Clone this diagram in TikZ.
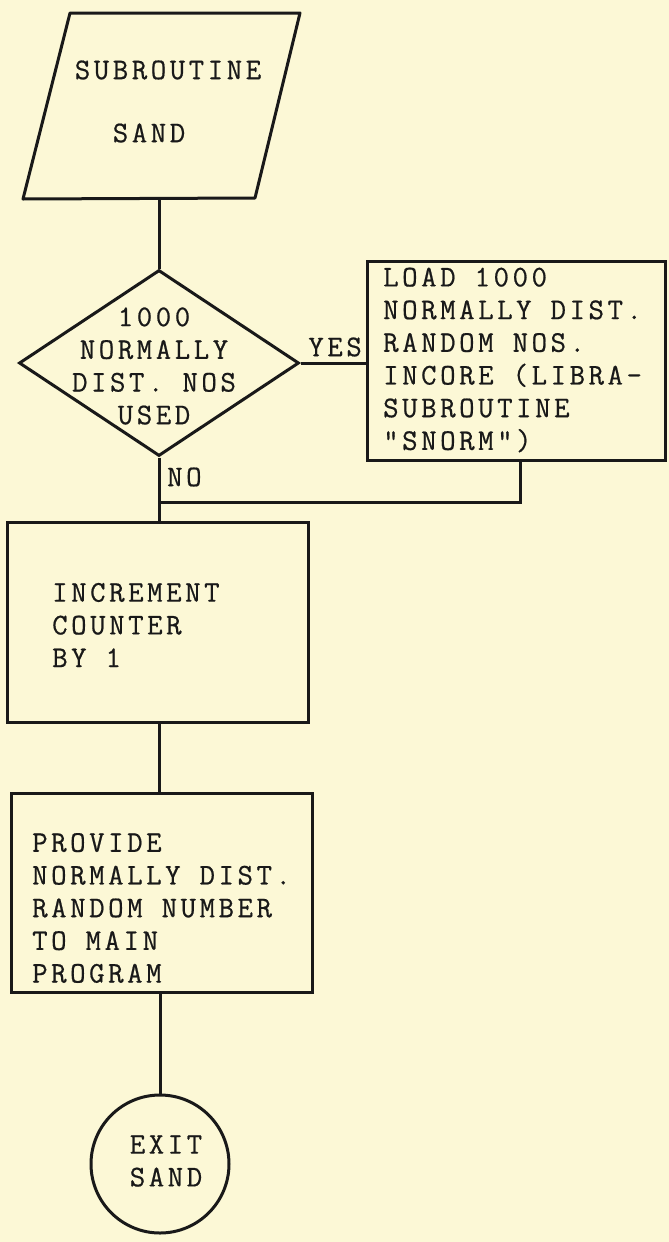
\documentclass[tikz,border=0pt]{standalone}
\usepackage{fontspec}
\newfontfamily\typer[LetterSpace=11.8, FakeBold=0.6]{Latin Modern Mono}
\usetikzlibrary{shapes.geometric}

\definecolor{paper}{RGB}{252,248,214}
\definecolor{ink}{RGB}{25,25,25}

\tikzset{
  txt/.style = {font=\typer\fontsize{30}{32.7}\selectfont, text=ink, inner sep=0pt, align=left},
  box/.style = {draw=ink, line width=3pt, inner sep=0pt},
  decision/.style = {diamond, draw=ink, line width=3pt, inner sep=0pt},
  link/.style = {draw=ink, line width=3pt},
}

\begin{document}
\begin{tikzpicture}[x=1pt, y=-1pt]
\fill[paper] (0,0) rectangle (669,1242);
\useasboundingbox (0,0) rectangle (669,1242);
% input
\draw[link, line join=round] (70,13) -- (300,13) -- (255,198) -- (23,199) -- cycle;
\node[txt] (sub1) at (168,70) {SUBROUTINE};
\node[txt] (sub2) at (149,133) {SAND};
\coordinate (subb) at (159,198);
% test
\node[decision, minimum width=280, minimum height=186] (dec) at (159,363) {};
\node[txt, align=center] (dect) at (154,366) {1000\\NORMALLY\\DIST. NOS\\USED};
\node[box, minimum width=298, minimum height=199] (load) at (516,360.5) {};
\node[txt, anchor=west] (loadt) at (383,360) {LOAD 1000\\NORMALLY DIST.\\RANDOM NOS.\\INCORE (LIBRA-\\SUBROUTINE\\"SNORM")};
\node[txt, anchor=east] (yes) at (362,347) {YES};
\node[txt, anchor=west] (no) at (167,477) {NO};
\coordinate (join) at (159,502);
% steps
\node[box, minimum width=301, minimum height=200] (incr) at (157.5,622) {};
\node[txt, anchor=west] (incrt) at (52,625) {INCREMENT\\COUNTER\\BY 1};
\node[box, minimum width=301, minimum height=199] (prov) at (161.5,892.5) {};
\node[txt, anchor=west] (provt) at (32,908) {PROVIDE\\NORMALLY DIST.\\RANDOM NUMBER\\TO MAIN\\PROGRAM};
% exit
\node[circle, draw=ink, line width=3pt, minimum size=138, inner sep=0pt] (exit) at (160,1164) {};
\node[txt, align=center] (exitt) at (166,1161) {EXIT\\SAND};

\draw[link] (subb) -- (dec.north);
\draw[link] (dec.east) -- (load.west |- dec.east);
\draw[link] ([xshift=4pt]load.south) |- (join);
\draw[link] (dec.south) -- (dec.south |- incr.north);
\draw[link] (incr.south -| dec.south) -- (dec.south |- prov.north);
\draw[link] (exit.north |- prov.south) -- (exit.north);
\end{tikzpicture}
\end{document}
